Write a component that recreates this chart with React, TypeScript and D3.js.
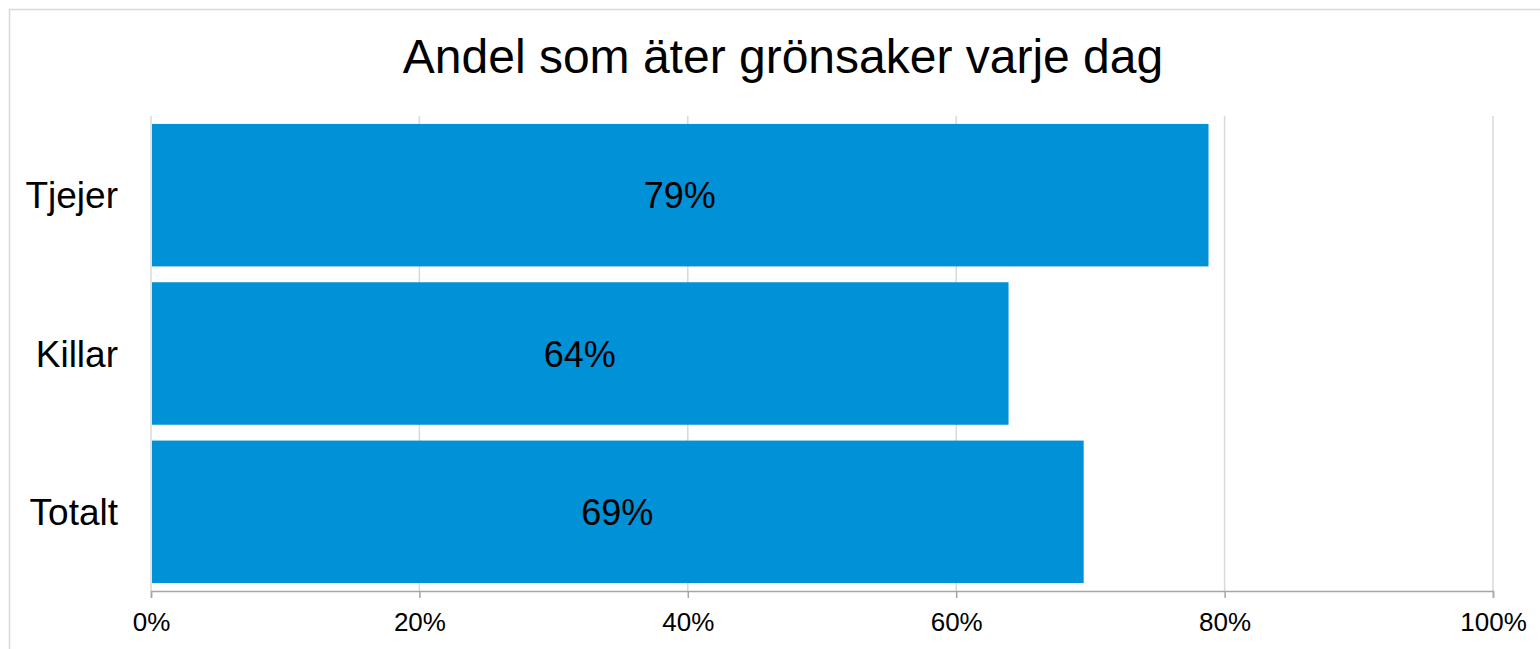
import React, { useEffect, useRef } from 'react';
import * as d3 from 'd3';

const categories = ['Tjejer', 'Killar', 'Totalt'];
const values = [0.788, 0.639, 0.695];
const valueLabels = ['79%', '64%', '69%'];
const ticks = [0, 0.2, 0.4, 0.6, 0.8, 1];
const title = 'Andel som äter grönsaker varje dag';

const App = () => {
  const ref = useRef<SVGSVGElement>(null);

  useEffect(() => {
    const svg = d3.select(ref.current);
    svg.selectAll('*').remove();

    const width = 1540;
    const height = 649;
    const margin = { top: 116, right: 47, bottom: 58, left: 151 };
    const font = 'Liberation Sans, Arial, sans-serif';

    svg.attr('width', width).attr('height', height);

    // chart border
    svg.append('rect')
      .attr('x', 9.5)
      .attr('y', 9.5)
      .attr('width', width)
      .attr('height', height)
      .style('fill', 'white')
      .style('stroke', '#d9d9d9')
      .style('stroke-width', 1.5);

    svg.append('text')
      .attr('x', 783)
      .attr('y', 73)
      .attr('text-anchor', 'middle')
      .style('font-family', font)
      .style('font-size', '48px')
      .style('fill', '#000')
      .text(title);

    const x = d3.scaleLinear()
      .domain([0, 1])
      .range([margin.left, width - margin.right]);

    const y = d3.scaleBand()
      .domain(categories)
      .range([margin.top, height - margin.bottom])
      .paddingInner(0.1)
      .paddingOuter(0.05);

    // gridlines
    svg.append('g')
      .selectAll('line')
      .data(ticks)
      .enter()
      .append('line')
      .attr('x1', d => x(d))
      .attr('x2', d => x(d))
      .attr('y1', margin.top)
      .attr('y2', height - margin.bottom)
      .style('stroke', '#d9d9d9')
      .style('stroke-width', 1.5);

    // bars
    svg.append('g')
      .selectAll('rect')
      .data(values)
      .enter()
      .append('rect')
      .attr('x', x(0) + 1)
      .attr('y', (d, i) => y(categories[i])!)
      .attr('width', d => x(d) - x(0) - 1)
      .attr('height', y.bandwidth())
      .style('fill', '#0091d6');

    // value labels
    svg.append('g')
      .selectAll('text')
      .data(values)
      .enter()
      .append('text')
      .attr('x', d => (x(0) + x(d)) / 2)
      .attr('y', (d, i) => y(categories[i])! + y.bandwidth() / 2 + 13)
      .attr('text-anchor', 'middle')
      .style('font-family', font)
      .style('font-size', '36px')
      .style('fill', '#000')
      .text((d, i) => valueLabels[i]);

    // category labels
    svg.append('g')
      .selectAll('text')
      .data(categories)
      .enter()
      .append('text')
      .attr('x', 118)
      .attr('y', d => y(d)! + y.bandwidth() / 2 + 13)
      .attr('text-anchor', 'end')
      .style('font-family', font)
      .style('font-size', '37px')
      .style('fill', '#000')
      .text(d => d);

    // x axis
    const axis = svg.append('g')
      .attr('transform', `translate(0,${height - margin.bottom})`)
      .call(d3.axisBottom(x)
        .tickValues(ticks)
        .tickSize(7)
        .tickFormat(d => `${Math.round(+d * 100)}%`));

    axis.select('.domain').style('stroke', '#a6a6a6').style('stroke-width', 1.5);
    axis.selectAll('.tick line').style('stroke', '#a6a6a6').style('stroke-width', 1.5);
    axis.selectAll('.tick text')
      .attr('y', 40)
      .attr('dy', 0)
      .style('font-family', font)
      .style('font-size', '26px')
      .style('fill', '#000');
  }, []);

  return (
    <svg ref={ref} style={{ position: 'absolute', left: 0, top: 0 }}></svg>
  );
};

export default App;
